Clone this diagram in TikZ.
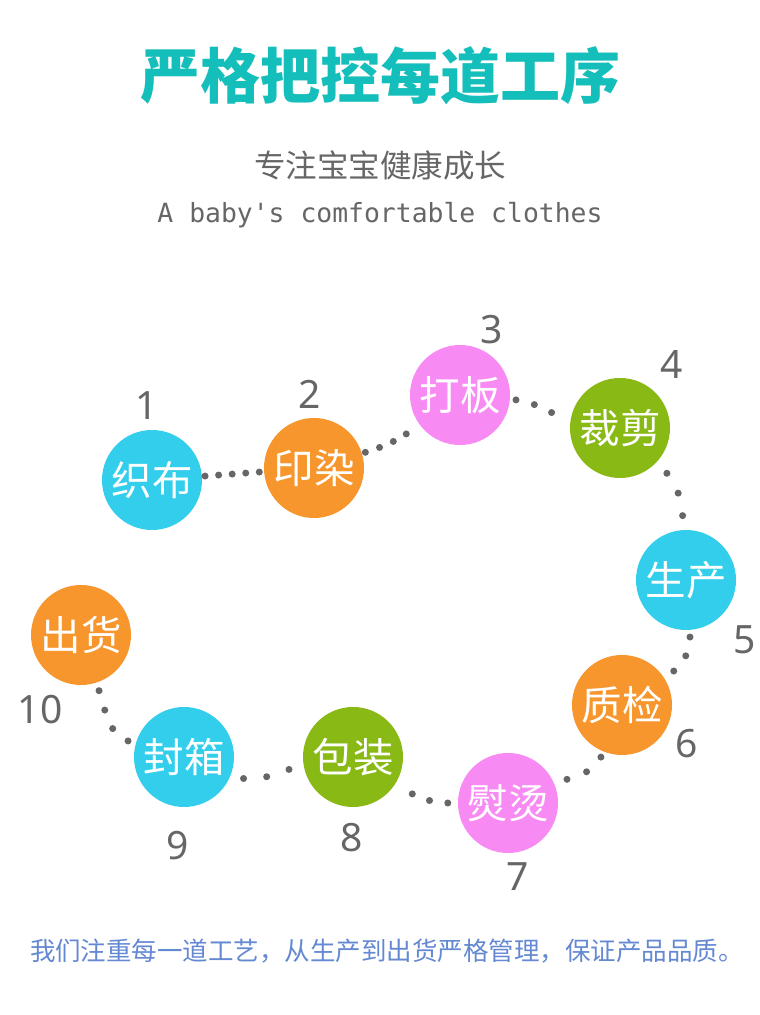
\documentclass[tikz,border=0pt]{standalone}
\usepackage{fontspec}
\newfontfamily\cjk{Noto Sans CJK SC}
\newfontfamily\digitfont{Noto Sans}
\newfontfamily\monofont{DejaVu Sans Mono}
\definecolor{ccyan}{RGB}{50,206,235}
\definecolor{corange}{RGB}{247,150,45}
\definecolor{cpink}{RGB}{248,138,243}
\definecolor{cgreen}{RGB}{136,185,20}
\definecolor{dgray}{RGB}{102,102,102}
\definecolor{dotgray}{RGB}{102,102,102}
\definecolor{titleteal}{RGB}{20,190,186}
\definecolor{bottomblue}{RGB}{100,137,210}
\begin{document}
\begin{tikzpicture}[x=1pt,y=1pt,
  stepc/.style={circle, minimum size=100pt, inner sep=0pt, text=white,
    font=\cjk\fontsize{40.5}{40.5}\selectfont},
  num/.style={inner sep=0pt, text=dgray, font=\digitfont\fontsize{39}{39}\selectfont},
  link/.style={draw=dotgray, line width=7pt, line cap=round, dash pattern=on 0pt off #1},
]
\fill[white] (0,0) rectangle (760,1015);
\useasboundingbox (0,0) rectangle (760,1015);

% titles
\node[inner sep=0pt, text=titleteal, font=\cjk\bfseries\fontsize{60}{60}\selectfont] (title) at (380,939) {严格把控每道工序};
\node[inner sep=0pt, text=dgray, font=\cjk\fontsize{31.5}{31.5}\selectfont] (sub) at (380,850) {专注宝宝健康成长};
\node[inner sep=0pt, anchor=base, text=dgray, font=\monofont\fontsize{26.4}{26.4}\selectfont] (eng) at (380,792) {A baby's comfortable clothes};
\node[inner sep=0pt, text=bottomblue, font=\cjk\fontsize{25.5}{25.5}\selectfont] (bottom) at (387,64) {我们注重每一道工艺，从生产到出货严格管理，保证产品品质。};

% steps
\node[stepc, fill=ccyan]   (n1)  at (152,535) {织布};
\node[stepc, fill=corange] (n2)  at (314,547) {印染};
\node[stepc, fill=cpink]   (n3)  at (460,620) {打板};
\node[stepc, fill=cgreen]  (n4)  at (620,587) {裁剪};
\node[stepc, fill=ccyan]   (n5)  at (686,435) {生产};
\node[stepc, fill=corange] (n6)  at (622,310) {质检};
\node[stepc, fill=cpink]   (n7)  at (508,212) {熨烫};
\node[stepc, fill=cgreen]  (n8)  at (353,258) {包装};
\node[stepc, fill=ccyan]   (n9)  at (184,258) {封箱};
\node[stepc, fill=corange] (n10) at (81,380)  {出货};

% numbers
\node[num] (l1)  at (147,609) {1};
\node[num] (l2)  at (310,621) {2};
\node[num] (l3)  at (492,685) {3};
\node[num] (l4)  at (672,650) {4};
\node[num] (l5)  at (745,375) {5};
\node[num] (l6)  at (687,271) {6};
\node[num] (l7)  at (518,138) {7};
\node[num] (l8)  at (352,177) {8};
\node[num] (l9)  at (178,169) {9};
\node[num] (l10) at (40,305)  {10};

% dotted connectors
\draw[link=13.6pt, shorten <=3pt, shorten >=3pt] (n1) -- (n2);
\draw[link=15pt, shorten <=3.5pt, shorten >=12pt] (n2) to[out=17, in=216] (n3);
\draw[link=19pt, shorten <=6pt, shorten >=12pt] (n3) to[out=-5, in=168] (n4);
\draw[link=23pt, shorten <=15pt, shorten >=13pt] (n4) to[out=-44, in=93] (n5);
\draw[link=19.5pt, shorten <=7pt, shorten >=7pt] (n5) to[out=-86, in=33] (n6);
\draw[link=21pt, shorten <=6pt, shorten >=8pt] (n6) to[out=248, in=22] (n7);
\draw[link=18.5pt, shorten <=10pt, shorten >=17pt] (n7) to[out=180, in=-32] (n8);
\draw[link=23.5pt, shorten <=15pt, shorten >=10pt] (n8) to[out=191, in=-20] (n9);
\draw[link=20.2pt, shorten <=8pt, shorten >=3.5pt] (n9) to[out=164, in=-72] (n10);
\end{tikzpicture}
\end{document}
